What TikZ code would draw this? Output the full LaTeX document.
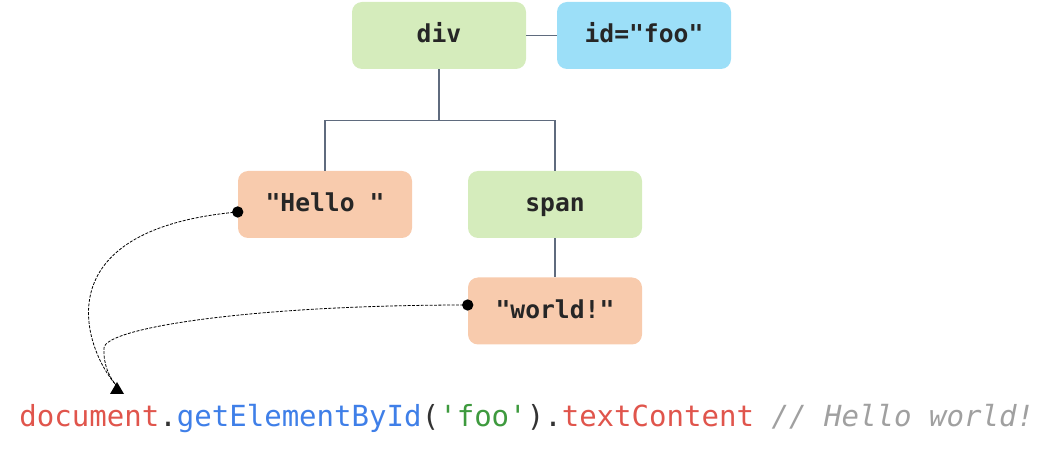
\documentclass[tikz,border=0pt]{standalone}
\usepackage{fontspec}
\usetikzlibrary{positioning}
\newfontfamily\codefont{DejaVu Sans Mono}
\definecolor{elemgreen}{HTML}{D5ECBC}
\definecolor{attrblue}{HTML}{9CDFF8}
\definecolor{textorange}{HTML}{F8CBAD}
\definecolor{treeline}{HTML}{5F6B7E}
\definecolor{kwred}{HTML}{E0554C}
\definecolor{fnblue}{HTML}{3F7FE8}
\definecolor{strgreen}{HTML}{3E9A3E}
\definecolor{punct}{HTML}{333333}
\definecolor{cmtgray}{HTML}{A0A0A0}
\tikzset{
  domnode/.style={rounded corners=7.5pt, minimum width=130.5pt, minimum height=50.25pt,
    inner sep=0pt, text height=14pt, text depth=2.8pt,
    font=\codefont\bfseries\fontsize{18.5}{22}\selectfont, text=black!85},
  elem/.style={domnode, fill=elemgreen},
  attr/.style={domnode, fill=attrblue},
  txt/.style={domnode, fill=textorange},
  tree/.style={draw=treeline, line width=1.1pt},
  ref/.style={draw=black, line width=0.6pt, dash pattern=on 2.2pt off 1.1pt},
  refdot/.style={fill=black, circle, inner sep=0pt, minimum size=8.5pt}
}
\begin{document}
\begin{tikzpicture}[x=0.75pt, y=-0.75pt]
  \useasboundingbox (0,0) rectangle (1047,452);

  % DOM tree
  \node[elem] (div)   at (439,35.5)  {div};
  \node[attr] (attr)  at (644,35.5)  {id="foo"};
  \node[txt]  (hello) at (325,204.5) {"Hello "};
  \node[elem] (span)  at (555,204.5) {span};
  \node[txt]  (world) at (555,311)   {"world!"};

  \draw[tree] (div.east) -- (attr.west);
  \draw[tree] (div.south) -- ++(0,51) -| (hello.north);
  \draw[tree] (div.south) -- ++(0,51) -| (span.north);
  \draw[tree] (span.south) -- (world.north);

  % code line
  \node[anchor=base west, inner sep=0pt, font=\codefont\fontsize{21.8}{26}\selectfont]
    (code) at (19,427)
    {\textcolor{kwred}{document}\textcolor{punct}{.}\textcolor{fnblue}{getElementById}\textcolor{punct}{(}\textcolor{strgreen}{'foo'}\textcolor{punct}{).}\textcolor{kwred}{textContent} \textcolor{cmtgray}{\itshape // Hello world!}};

  % text nodes feeding textContent
  \coordinate (hstart) at ([yshift=-5.6pt]hello.west);
  \coordinate (wstart) at ([yshift=4.5pt]world.west);
  \coordinate (tip) at (116,385);

  \draw[ref] (hstart) .. controls (40,230) and (85,350) .. (tip);
  \draw[ref] (wstart) .. controls (250,305) and (105,328) .. (104,348)
                      .. controls (103,365) and (110,378) .. (tip);
  \node[refdot] at (hstart) {};
  \node[refdot] at (wstart) {};
  \fill (tip) ++(1,-3) -- ++(-7,12) -- ++(14,0) -- cycle;
\end{tikzpicture}
\end{document}
